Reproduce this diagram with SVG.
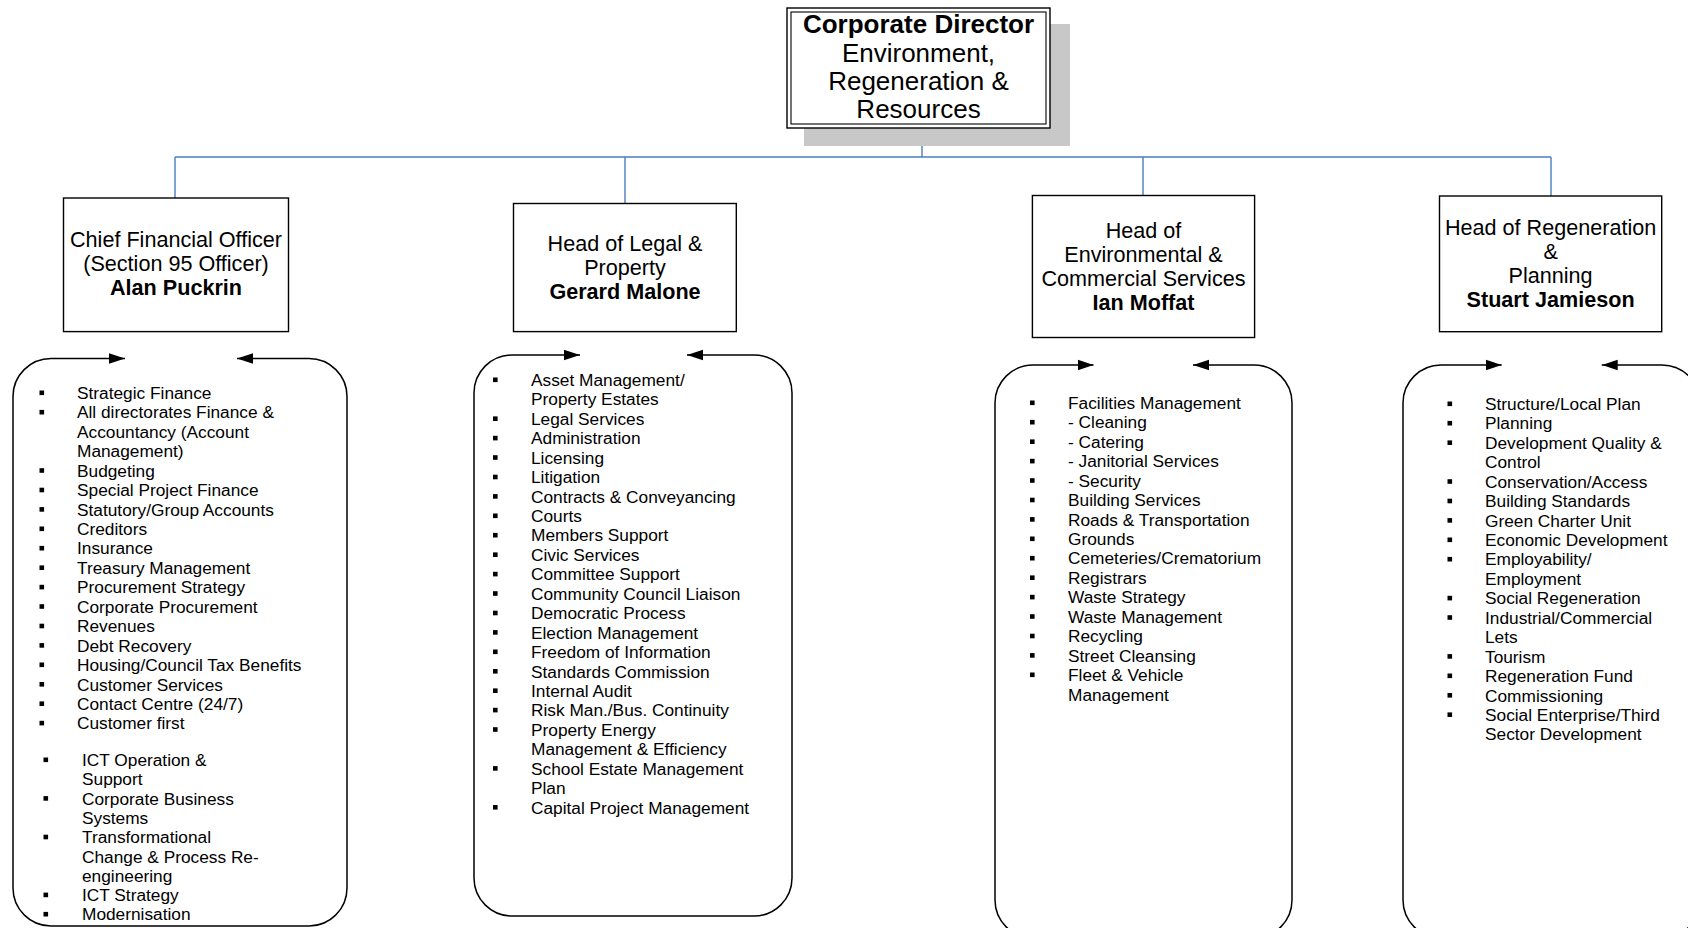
<svg xmlns="http://www.w3.org/2000/svg" width="1688" height="928" viewBox="0 0 1688 928">
<style>
text{font-family:"Liberation Sans",Arial,sans-serif;fill:#000}
.top{font-size:26px;text-anchor:middle}
.hdr{font-size:21.6px;text-anchor:middle}
.b{font-weight:bold}
.li{font-size:17.3px}
.box{fill:#fff;stroke:#000;stroke-width:1.4}
.rb{fill:none;stroke:#000;stroke-width:1.5;marker-start:url(#ah);marker-end:url(#ah)}
.bl{fill:#000}
.conn{fill:none;stroke:#4a7ebb;stroke-width:1.4}
</style>
<defs>
<marker id="ah" markerUnits="userSpaceOnUse" markerWidth="16" markerHeight="12" viewBox="0 0 15 10" refX="15" refY="5" orient="auto-start-reverse"><path d="M0,0 L15,5 L0,10 z" fill="#000"/></marker>
</defs>
<rect width="1688" height="928" fill="#fff"/>

<g id="connectors">
<path class="conn" d="M922,128 V157 M175,157 H1551 M175,157 V198 M625,157 V204 M1143,157 V196 M1551,157 V196"/>
</g>

<g id="director">
<rect x="804" y="24" width="266" height="122" fill="#c8c8c8"/>
<rect class="box" x="787" y="8" width="263" height="120"/>
<rect x="791" y="12" width="255" height="112" fill="none" stroke="#000" stroke-width="1.1"/>
<text class="top b" x="918.5" y="32.6">Corporate Director</text>
<text class="top" x="918.5" y="61.5">Environment,</text>
<text class="top" x="918.5" y="90">Regeneration &amp;</text>
<text class="top" x="918.5" y="118">Resources</text>
</g>

<g id="cfo">
<rect class="box" x="63.5" y="198" width="225" height="133.6"/>
<text class="hdr" x="176" y="247">Chief Financial Officer</text>
<text class="hdr" x="176" y="271.2">(Section 95 Officer)</text>
<text class="hdr b" x="176" y="295.4">Alan Puckrin</text>
</g>

<g id="legal">
<rect class="box" x="513.5" y="203.5" width="222.8" height="128.1"/>
<text class="hdr" x="625" y="251">Head of Legal &amp;</text>
<text class="hdr" x="625" y="275">Property</text>
<text class="hdr b" x="625" y="298.5">Gerard Malone</text>
</g>

<g id="env">
<rect class="box" x="1032.4" y="195.5" width="222.2" height="142"/>
<text class="hdr" x="1143.5" y="237.5">Head of</text>
<text class="hdr" x="1143.5" y="261.5">Environmental &amp;</text>
<text class="hdr" x="1143.5" y="285.5">Commercial Services</text>
<text class="hdr b" x="1143.5" y="309.5">Ian Moffat</text>
</g>

<g id="regen">
<rect class="box" x="1439.5" y="196" width="222.2" height="135.7"/>
<text class="hdr" x="1550.6" y="235">Head of Regeneration</text>
<text class="hdr" x="1550.6" y="259">&amp;</text>
<text class="hdr" x="1550.6" y="283">Planning</text>
<text class="hdr b" x="1550.6" y="307">Stuart Jamieson</text>
</g>

<g id="cfo-services">
<path class="rb" d="M125,358.5 H51 A38,38 0 0 0 13,396.5 V888 A38,38 0 0 0 51,926 H309 A38,38 0 0 0 347,888 V396.5 A38,38 0 0 0 309,358.5 H237"/>
<g class="bl">
<rect x="39.5" y="390.5" width="4.6" height="4.6"/><rect x="39.5" y="409.9" width="4.6" height="4.6"/><rect x="39.5" y="468.2" width="4.6" height="4.6"/><rect x="39.5" y="487.7" width="4.6" height="4.6"/><rect x="39.5" y="507.1" width="4.6" height="4.6"/><rect x="39.5" y="526.5" width="4.6" height="4.6"/><rect x="39.5" y="545.9" width="4.6" height="4.6"/><rect x="39.5" y="565.4" width="4.6" height="4.6"/><rect x="39.5" y="584.8" width="4.6" height="4.6"/><rect x="39.5" y="604.2" width="4.6" height="4.6"/><rect x="39.5" y="623.7" width="4.6" height="4.6"/><rect x="39.5" y="643.1" width="4.6" height="4.6"/><rect x="39.5" y="662.5" width="4.6" height="4.6"/><rect x="39.5" y="682" width="4.6" height="4.6"/><rect x="39.5" y="701.4" width="4.6" height="4.6"/><rect x="39.5" y="720.8" width="4.6" height="4.6"/>
<rect x="43.5" y="757.5" width="4.6" height="4.6"/><rect x="43.5" y="796.1" width="4.6" height="4.6"/><rect x="43.5" y="834.7" width="4.6" height="4.6"/><rect x="43.5" y="892.6" width="4.6" height="4.6"/><rect x="43.5" y="911.9" width="4.6" height="4.6"/>
</g>
<text class="li"><tspan x="77" y="399">Strategic Finance</tspan><tspan x="77" y="418.4">All directorates Finance &amp;</tspan><tspan x="77" y="437.9">Accountancy (Account</tspan><tspan x="77" y="457.3">Management)</tspan><tspan x="77" y="476.7">Budgeting</tspan><tspan x="77" y="496.2">Special Project Finance</tspan><tspan x="77" y="515.6">Statutory/Group Accounts</tspan><tspan x="77" y="535">Creditors</tspan><tspan x="77" y="554.4">Insurance</tspan><tspan x="77" y="573.9">Treasury Management</tspan><tspan x="77" y="593.3">Procurement Strategy</tspan><tspan x="77" y="612.7">Corporate Procurement</tspan><tspan x="77" y="632.2">Revenues</tspan><tspan x="77" y="651.6">Debt Recovery</tspan><tspan x="77" y="671">Housing/Council Tax Benefits</tspan><tspan x="77" y="690.5">Customer Services</tspan><tspan x="77" y="709.9">Contact Centre (24/7)</tspan><tspan x="77" y="729.3">Customer first</tspan></text>
<text class="li"><tspan x="82" y="766">ICT Operation &amp;</tspan><tspan x="82" y="785.3">Support</tspan><tspan x="82" y="804.6">Corporate Business</tspan><tspan x="82" y="823.9">Systems</tspan><tspan x="82" y="843.2">Transformational</tspan><tspan x="82" y="862.5">Change &amp; Process Re-</tspan><tspan x="82" y="881.8">engineering</tspan><tspan x="82" y="901.1">ICT Strategy</tspan><tspan x="82" y="920.4">Modernisation</tspan></text>
</g>

<g id="legal-services">
<path class="rb" d="M580,355 H512 A38,38 0 0 0 474,393 V878 A38,38 0 0 0 512,916 H754 A38,38 0 0 0 792,878 V393 A38,38 0 0 0 754,355 H687"/>
<g class="bl">
<rect x="493" y="377.5" width="4.6" height="4.6"/><rect x="493" y="416.4" width="4.6" height="4.6"/><rect x="493" y="435.8" width="4.6" height="4.6"/><rect x="493" y="455.2" width="4.6" height="4.6"/><rect x="493" y="474.7" width="4.6" height="4.6"/><rect x="493" y="494.1" width="4.6" height="4.6"/><rect x="493" y="513.5" width="4.6" height="4.6"/><rect x="493" y="532.9" width="4.6" height="4.6"/><rect x="493" y="552.4" width="4.6" height="4.6"/><rect x="493" y="571.8" width="4.6" height="4.6"/><rect x="493" y="591.2" width="4.6" height="4.6"/><rect x="493" y="610.7" width="4.6" height="4.6"/><rect x="493" y="630.1" width="4.6" height="4.6"/><rect x="493" y="649.5" width="4.6" height="4.6"/><rect x="493" y="669" width="4.6" height="4.6"/><rect x="493" y="688.4" width="4.6" height="4.6"/><rect x="493" y="707.8" width="4.6" height="4.6"/><rect x="493" y="727.2" width="4.6" height="4.6"/><rect x="493" y="766.1" width="4.6" height="4.6"/><rect x="493" y="805" width="4.6" height="4.6"/>
</g>
<text class="li"><tspan x="531" y="386">Asset Management/</tspan><tspan x="531" y="405.4">Property Estates</tspan><tspan x="531" y="424.9">Legal Services</tspan><tspan x="531" y="444.3">Administration</tspan><tspan x="531" y="463.7">Licensing</tspan><tspan x="531" y="483.2">Litigation</tspan><tspan x="531" y="502.6">Contracts &amp; Conveyancing</tspan><tspan x="531" y="522">Courts</tspan><tspan x="531" y="541.4">Members Support</tspan><tspan x="531" y="560.9">Civic Services</tspan><tspan x="531" y="580.3">Committee Support</tspan><tspan x="531" y="599.7">Community Council Liaison</tspan><tspan x="531" y="619.2">Democratic Process</tspan><tspan x="531" y="638.6">Election Management</tspan><tspan x="531" y="658">Freedom of Information</tspan><tspan x="531" y="677.5">Standards Commission</tspan><tspan x="531" y="696.9">Internal Audit</tspan><tspan x="531" y="716.3">Risk Man./Bus. Continuity</tspan><tspan x="531" y="735.7">Property Energy</tspan><tspan x="531" y="755.2">Management &amp; Efficiency</tspan><tspan x="531" y="774.6">School Estate Management</tspan><tspan x="531" y="794">Plan</tspan><tspan x="531" y="813.5">Capital Project Management</tspan></text>
</g>

<g id="env-services">
<path class="rb" d="M1093.5,365 H1033 A38,38 0 0 0 995,403 V900 A38,38 0 0 0 1033,938 H1254 A38,38 0 0 0 1292,900 V403 A38,38 0 0 0 1254,365 H1193"/>
<g class="bl">
<rect x="1030" y="400.5" width="4.6" height="4.6"/><rect x="1030" y="419.9" width="4.6" height="4.6"/><rect x="1030" y="439.4" width="4.6" height="4.6"/><rect x="1030" y="458.8" width="4.6" height="4.6"/><rect x="1030" y="478.2" width="4.6" height="4.6"/><rect x="1030" y="497.7" width="4.6" height="4.6"/><rect x="1030" y="517.1" width="4.6" height="4.6"/><rect x="1030" y="536.5" width="4.6" height="4.6"/><rect x="1030" y="555.9" width="4.6" height="4.6"/><rect x="1030" y="575.4" width="4.6" height="4.6"/><rect x="1030" y="594.8" width="4.6" height="4.6"/><rect x="1030" y="614.2" width="4.6" height="4.6"/><rect x="1030" y="633.7" width="4.6" height="4.6"/><rect x="1030" y="653.1" width="4.6" height="4.6"/><rect x="1030" y="672.5" width="4.6" height="4.6"/>
</g>
<text class="li"><tspan x="1068" y="409">Facilities Management</tspan><tspan x="1068" y="428.4">- Cleaning</tspan><tspan x="1068" y="447.9">- Catering</tspan><tspan x="1068" y="467.3">- Janitorial Services</tspan><tspan x="1068" y="486.7">- Security</tspan><tspan x="1068" y="506.2">Building Services</tspan><tspan x="1068" y="525.6">Roads &amp; Transportation</tspan><tspan x="1068" y="545">Grounds</tspan><tspan x="1068" y="564.4">Cemeteries/Crematorium</tspan><tspan x="1068" y="583.9">Registrars</tspan><tspan x="1068" y="603.3">Waste Strategy</tspan><tspan x="1068" y="622.7">Waste Management</tspan><tspan x="1068" y="642.2">Recycling</tspan><tspan x="1068" y="661.6">Street Cleansing</tspan><tspan x="1068" y="681">Fleet &amp; Vehicle</tspan><tspan x="1068" y="700.5">Management</tspan></text>
</g>

<g id="regen-services">
<path class="rb" d="M1501.7,365 H1441 A38,38 0 0 0 1403,403 V900 A38,38 0 0 0 1441,938 H1662 A38,38 0 0 0 1700,900 V403 A38,38 0 0 0 1662,365 H1601.7"/>
<g class="bl">
<rect x="1447.5" y="401.5" width="4.6" height="4.6"/><rect x="1447.5" y="420.9" width="4.6" height="4.6"/><rect x="1447.5" y="440.4" width="4.6" height="4.6"/><rect x="1447.5" y="479.2" width="4.6" height="4.6"/><rect x="1447.5" y="498.7" width="4.6" height="4.6"/><rect x="1447.5" y="518.1" width="4.6" height="4.6"/><rect x="1447.5" y="537.5" width="4.6" height="4.6"/><rect x="1447.5" y="556.9" width="4.6" height="4.6"/><rect x="1447.5" y="595.8" width="4.6" height="4.6"/><rect x="1447.5" y="615.2" width="4.6" height="4.6"/><rect x="1447.5" y="654.1" width="4.6" height="4.6"/><rect x="1447.5" y="673.5" width="4.6" height="4.6"/><rect x="1447.5" y="693" width="4.6" height="4.6"/><rect x="1447.5" y="712.4" width="4.6" height="4.6"/>
</g>
<text class="li"><tspan x="1485" y="410">Structure/Local Plan</tspan><tspan x="1485" y="429.4">Planning</tspan><tspan x="1485" y="448.9">Development Quality &amp;</tspan><tspan x="1485" y="468.3">Control</tspan><tspan x="1485" y="487.7">Conservation/Access</tspan><tspan x="1485" y="507.2">Building Standards</tspan><tspan x="1485" y="526.6">Green Charter Unit</tspan><tspan x="1485" y="546">Economic Development</tspan><tspan x="1485" y="565.4">Employability/</tspan><tspan x="1485" y="584.9">Employment</tspan><tspan x="1485" y="604.3">Social Regeneration</tspan><tspan x="1485" y="623.7">Industrial/Commercial</tspan><tspan x="1485" y="643.2">Lets</tspan><tspan x="1485" y="662.6">Tourism</tspan><tspan x="1485" y="682">Regeneration Fund</tspan><tspan x="1485" y="701.5">Commissioning</tspan><tspan x="1485" y="720.9">Social Enterprise/Third</tspan><tspan x="1485" y="740.3">Sector Development</tspan></text>
</g>
</svg>
